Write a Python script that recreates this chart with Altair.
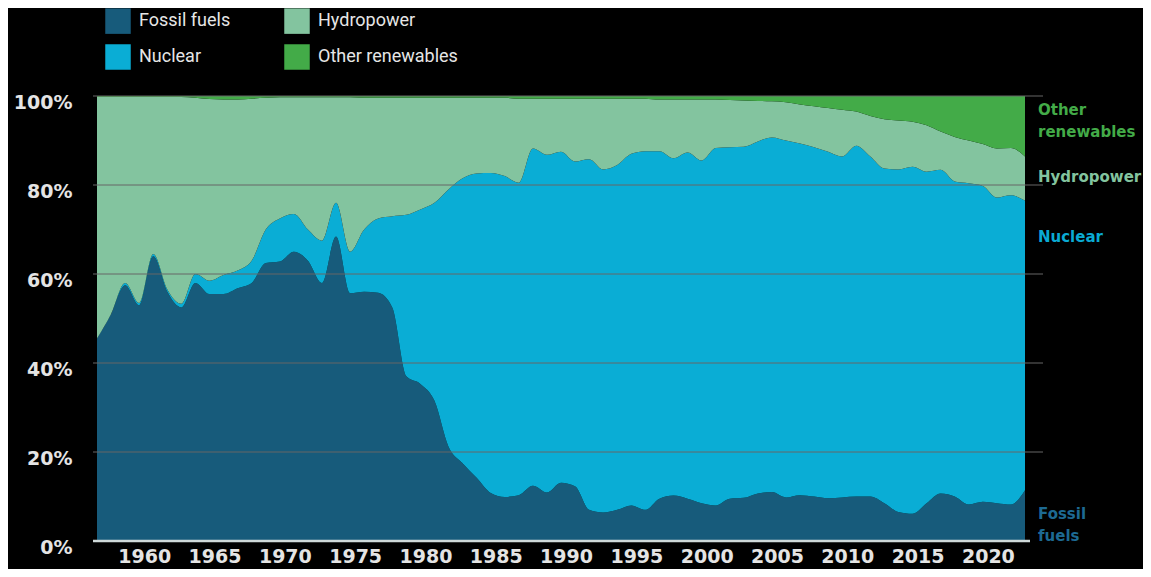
import altair as alt
import pandas as pd

years = list(range(1956, 2023))

fossil = [45.5, 51.0, 57.5, 53.0, 64.0, 56.0, 52.5, 58.0, 55.5, 55.5,
          56.8, 58.0, 62.5, 62.8, 65.0, 63.0, 58.0, 68.4, 55.7, 56.0,
          55.8, 52.5, 37.0, 35.3, 31.5, 21.2, 17.5, 14.2, 10.8, 9.9,
          10.3, 12.4, 10.9, 13.1, 12.3, 7.0, 6.4, 7.0, 8.0, 7.0,
          9.5, 10.2, 9.5, 8.5, 8.0, 9.5, 9.7, 10.7, 11.0, 9.8,
          10.3, 10.0, 9.6, 9.8, 10.0, 10.0, 8.5, 6.5, 6.1, 8.5,
          10.7, 10.0, 8.2, 8.8, 8.5, 8.2, 11.4]

nuclear = [0.0, 0.0, 0.5, 0.5, 0.5, 0.5, 0.8, 2.0, 3.0, 4.3,
           4.0, 5.0, 7.5, 9.7, 8.5, 7.0, 9.5, 7.6, 9.3, 14.0,
           16.7, 20.5, 36.3, 39.2, 44.5, 57.8, 64.0, 68.4, 71.9, 72.1,
           70.2, 75.8, 75.9, 74.4, 73.0, 78.8, 77.1, 77.5, 79.0, 80.6,
           78.1, 75.8, 77.8, 77.0, 80.3, 79.0, 78.9, 79.1, 79.7, 80.2,
           79.0, 78.5, 77.9, 76.6, 78.8, 76.4, 75.2, 77.0, 78.0, 74.5,
           72.7, 70.8, 72.2, 71.0, 68.7, 69.5, 65.1]

hydro = [54.3, 48.8, 41.8, 46.3, 35.3, 43.3, 46.5, 39.6, 40.8, 39.4,
         38.4, 36.4, 29.6, 27.2, 26.2, 29.7, 32.2, 23.7, 34.7, 29.6,
         27.1, 26.6, 26.3, 25.1, 23.6, 20.6, 18.1, 17.0, 16.9, 17.6,
         18.9, 11.2, 12.6, 11.9, 14.1, 13.6, 15.9, 14.9, 12.4, 11.8,
         11.6, 13.2, 11.9, 13.7, 10.9, 10.6, 10.4, 9.1, 8.1, 8.6,
         8.8, 9.2, 9.8, 10.5, 7.7, 9.1, 11.1, 11.0, 10.1, 10.4,
         8.6, 10.0, 9.6, 9.4, 11.0, 10.6, 9.9]

other = [0.2, 0.2, 0.2, 0.2, 0.2, 0.2, 0.2, 0.4, 0.7, 0.8,
         0.8, 0.6, 0.4, 0.3, 0.3, 0.3, 0.3, 0.3, 0.3, 0.4,
         0.4, 0.4, 0.4, 0.4, 0.4, 0.4, 0.4, 0.4, 0.4, 0.4,
         0.6, 0.6, 0.6, 0.6, 0.6, 0.6, 0.6, 0.6, 0.6, 0.6,
         0.8, 0.8, 0.8, 0.8, 0.8, 0.9, 1.0, 1.1, 1.2, 1.4,
         1.9, 2.3, 2.7, 3.1, 3.5, 4.5, 5.2, 5.5, 5.8, 6.6,
         8.0, 9.2, 10.0, 10.8, 11.8, 11.7, 13.6]

series_names = ["Fossil fuels", "Nuclear", "Hydropower", "Other renewables"]
series_values = [fossil, nuclear, hydro, other]
color_map = {"Fossil fuels": "#175b7b", "Hydropower": "#83c49f",
             "Nuclear": "#0aadd5", "Other renewables": "#43ab48"}

x_ticks = [1960, 1965, 1970, 1975, 1980, 1985, 1990, 1995, 2000, 2005, 2010, 2015, 2020]
y_ticks = [0, 20, 40, 60, 80, 100]
grid_vals = [20, 40, 60, 80, 100]

rows = []
for rank, (name, vals) in enumerate(zip(series_names, series_values)):
    for yr, v in zip(years, vals):
        rows.append({"year": yr, "source": name, "share": v, "rank": rank})
df = pd.DataFrame(rows)

W, H = 928, 445

area = alt.Chart(df).mark_area(interpolate="monotone").encode(
    x=alt.X("year:Q", title=None,
            scale=alt.Scale(domain=[1956, 2022], nice=False, zero=False),
            axis=alt.Axis(values=x_ticks, format="d", labelOffset=-9, ticks=False,
                          domain=False, grid=False, labelFont="DejaVu Sans",
                          labelFontWeight="bold", labelFontSize=19, labelColor="#e4e4e4",
                          labelPadding=6)),
    y=alt.Y("share:Q", stack="zero", title=None,
            scale=alt.Scale(domain=[0, 100], nice=False),
            axis=alt.Axis(values=y_ticks, labelExpr="datum.value + '%'", ticks=False,
                          domain=False, grid=False, labelFont="DejaVu Sans",
                          labelFontWeight="bold", labelFontSize=19, labelColor="#e4e4e4",
                          labelPadding=25, labelOffset=6)),
    color=alt.Color("source:N",
                    scale=alt.Scale(domain=series_names,
                                    range=[color_map[k] for k in series_names]),
                    legend=alt.Legend(orient="none", legendX=8, legendY=-88, columns=2,
                                      title=None, symbolType="square", symbolSize=650,
                                      symbolStrokeWidth=0, symbolOpacity=1,
                                      columnPadding=53, rowPadding=10,
                                      labelFont="Roboto", labelFontSize=18,
                                      labelColor="#e6e6e6", labelOffset=8)),
    order=alt.Order("rank:Q", sort="ascending"),
)

grid_df = pd.DataFrame({"v": grid_vals})
grid = alt.Chart(grid_df).mark_rule(color="#666666", strokeWidth=1).encode(
    y="v:Q", x=alt.value(-4), x2=alt.value(W + 18))

base_df = pd.DataFrame({"v": [0]})
baseline = alt.Chart(base_df).mark_rule(color="#cfd9d9", strokeWidth=2.5).encode(
    y="v:Q", x=alt.value(-4), x2=alt.value(W + 5))

def note(text, y, color):
    return alt.Chart(base_df).mark_text(
        align="left", baseline="middle", font="DejaVu Sans", fontWeight="bold",
        fontSize=15, color=color, lineHeight=22).encode(
        x=alt.value(W + 13), y=alt.value(y), text=alt.value(text))

notes = [
    note(["Other", "renewables"], 14, "#43ab48"),
    note("Hydropower", 81, "#83c49f"),
    note("Nuclear", 141, "#0aaad3"),
    note(["Fossil", "fuels"], 418, "#1d6a93"),
]

chart = alt.layer(area, grid, baseline, *notes).properties(
    width=W, height=H,
    autosize=alt.AutoSizeParams(type="none"),
    padding={"left": 89, "top": 88, "right": 118, "bottom": 28},
).configure(background="#000000").configure_view(stroke=None)

chart.save("out.html", embed_options={"renderer": "svg", "actions": False})
